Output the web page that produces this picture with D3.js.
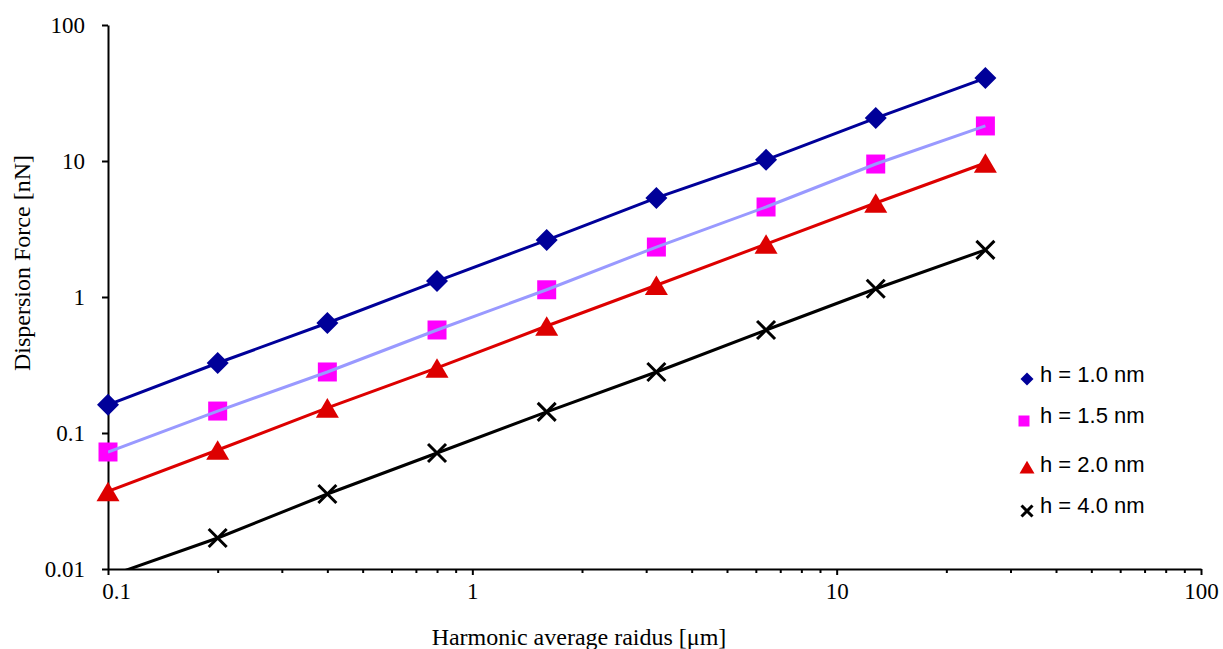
<!DOCTYPE html>
<html>
<head>
<meta charset="utf-8">
<script src="https://cdn.jsdelivr.net/npm/d3@7"></script>
<style>
  body { margin: 0; background: #fff; }
  svg { display: block; }
</style>
</head>
<body>
<script>
// radius doubles at every marker, forces
const radius = [0.1, 0.2, 0.4, 0.8, 1.6, 3.2, 6.4, 12.8, 25.6];
const force10 = [0.161, 0.327, 0.644, 1.31, 2.62, 5.35, 10.2, 20.7, 40.7];
const force15 = [0.0725, 0.145, 0.281, 0.572, 1.13, 2.33, 4.59, 9.5, 18.1];
const force20 = [0.0372, 0.075, 0.153, 0.301, 0.612, 1.22, 2.45, 4.91, 9.67];
const force40 = [0.0088, 0.0169, 0.0356, 0.0713, 0.143, 0.281, 0.572, 1.15, 2.22];

const seriesNames = ["h = 1.0 nm", "h = 1.5 nm", "h = 2.0 nm", "h = 4.0 nm"];
const xTicks = [0.1, 1, 10, 100];
const yTicks = [0.01, 0.1, 1, 10, 100];

let width = 1223, height = 649;

let x = d3.scaleLog().domain([0.1, 100]).range([108, 1201]);
let y = d3.scaleLog().domain([0.01, 100]).range([569, 25]);

let series = [
    {name: seriesNames[0], values: force10, line: "#000099", fill: "#000099", shape: "diamond"},
    {name: seriesNames[1], values: force15, line: "#9999ff", fill: "#ff00ff", shape: "square"},
    {name: seriesNames[2], values: force20, line: "#dd0000", fill: "#dd0000", shape: "triangle"},
    {name: seriesNames[3], values: force40, line: "#000000", fill: "#000000", shape: "cross"}
];

function markerPath(shape, s) {
    // s = overall size in px
    let h = s / 2;
    if (shape === "diamond") return `M0,${-h}L${h},0L0,${h}L${-h},0Z`;
    if (shape === "square") return `M${-h},${-h}H${h}V${h}H${-h}Z`;
    if (shape === "triangle") return `M0,${-h * 0.85}L${h},${h * 0.85}L${-h},${h * 0.85}Z`;
    return `M${-h},${-h}L${h},${h}M${-h},${h}L${h},${-h}`;
}

let svg = d3.select("body").append("svg")
    .attr("width", width)
    .attr("height", height);

svg.append("defs").append("clipPath").attr("id", "plot")
    .append("rect")
    .attr("x", 108).attr("y", 25)
    .attr("width", 1201 - 108).attr("height", 569 - 25);

// axes
let minorX = [];
[0.1, 1, 10].forEach(d => { for (let k = 2; k <= 9; k++) minorX.push(d * k); });

svg.append("g")
    .attr("transform", "translate(0,569)")
    .call(d3.axisBottom(x).tickValues(minorX).tickSize(4).tickSizeOuter(0).tickFormat(""))
    .call(g => g.select(".domain").remove())
    .selectAll("line").attr("stroke-width", 2);

let gx = svg.append("g")
    .attr("transform", "translate(0,569)")
    .call(d3.axisBottom(x).tickValues(xTicks).tickSize(6).tickSizeOuter(0).tickFormat(d => String(d)));
gx.select(".domain").attr("stroke-width", 2);
gx.selectAll("line").attr("stroke-width", 2);
gx.selectAll("text")
    .attr("y", 30).attr("dy", 0)
    .attr("dx", d => d === 0.1 ? 8 : 0)
    .style("font-family", "'Liberation Serif', 'Times New Roman', serif")
    .style("font-size", "23px")
    .attr("fill", "#000");

let gy = svg.append("g")
    .attr("transform", "translate(108,0)")
    .call(d3.axisLeft(y).tickValues(yTicks).tickSize(6).tickSizeOuter(0).tickFormat(d => String(d)));
gy.select(".domain").attr("stroke-width", 2);
gy.selectAll("line").attr("stroke-width", 2);
gy.selectAll("text")
    .attr("x", -23).attr("dy", "0.33em")
    .style("font-family", "'Liberation Serif', 'Times New Roman', serif")
    .style("font-size", "23px")
    .attr("fill", "#000");

// axis titles
svg.append("text")
    .attr("x", 579).attr("y", 645)
    .attr("text-anchor", "middle")
    .style("font-family", "'Liberation Serif', 'Times New Roman', serif")
    .style("font-size", "24px")
    .text("Harmonic average raidus [μm]");

svg.append("text")
    .attr("transform", "translate(30,263) rotate(-90)")
    .attr("text-anchor", "middle")
    .style("font-family", "'Liberation Serif', 'Times New Roman', serif")
    .style("font-size", "24px")
    .text("Dispersion Force [nN]");

// markers
let sizes = {diamond: 22, square: 19, triangle: 23, cross: 18};
series.forEach(s => {
    let pts = radius.map((r, i) => [r, s.values[i]]).filter(d => d[1] >= 0.01);
    let g = svg.append("g");
    g.selectAll("path").data(pts).join("path")
        .attr("transform", d => `translate(${x(d[0])},${y(d[1])})`)
        .attr("d", markerPath(s.shape, sizes[s.shape]))
        .attr("fill", s.shape === "cross" ? "none" : s.fill)
        .attr("stroke", s.shape === "cross" ? s.fill : "none")
        .attr("stroke-width", 3);
});

// lines on top
let line = d3.line().x(d => x(d[0])).y(d => y(d[1]));
series.forEach(s => {
    svg.append("path")
        .datum(radius.map((r, i) => [r, s.values[i]]))
        .attr("clip-path", "url(#plot)")
        .attr("fill", "none")
        .attr("stroke", s.line)
        .attr("stroke-width", 3)
        .attr("d", line);
});

// legend
let legendY = [379, 421, 467, 511];
let legendSizes = {diamond: 13, square: 11, triangle: 15, cross: 11};
let lg = svg.append("g");
series.forEach((s, i) => {
    lg.append("path")
        .attr("transform", `translate(${s.shape === "square" ? 1024 : 1027},${legendY[i]})`)
        .attr("d", markerPath(s.shape, legendSizes[s.shape]))
        .attr("fill", s.shape === "cross" ? "none" : s.fill)
        .attr("stroke", s.shape === "cross" ? s.fill : "none")
        .attr("stroke-width", 3);
    lg.append("text")
        .attr("x", 1040)
        .attr("y", [382, 423, 472, 513][i])
        .style("font-family", "'Liberation Sans', Arial, sans-serif")
        .style("font-size", "22px")
        .text(s.name);
});
</script>
</body>
</html>
